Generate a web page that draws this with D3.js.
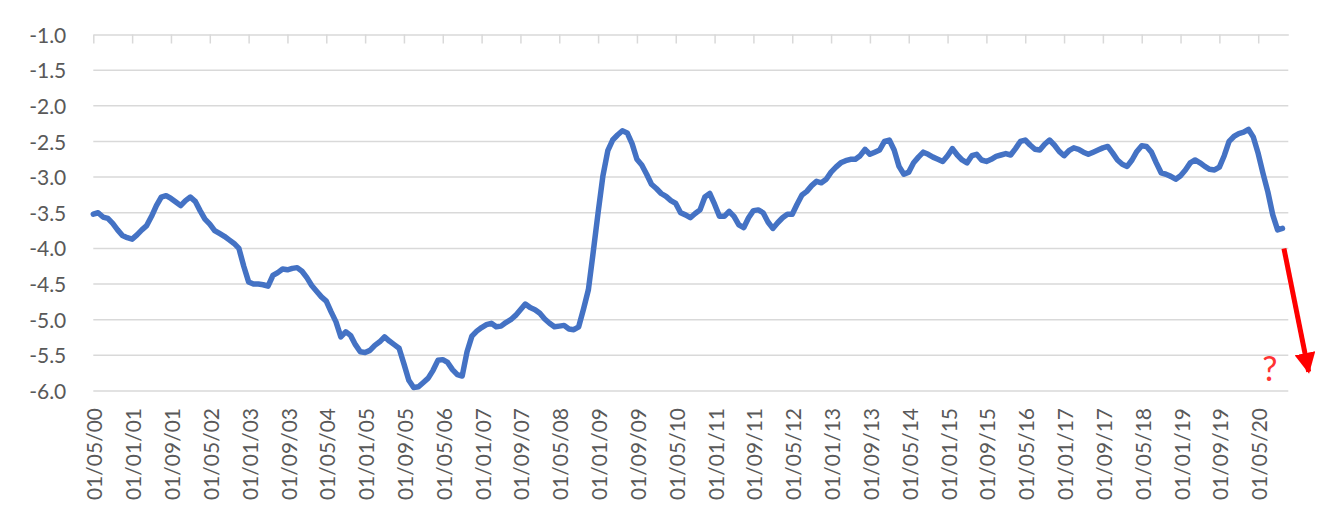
<!DOCTYPE html>
<html>
<head>
<meta charset="utf-8">
<script src="https://cdn.jsdelivr.net/npm/d3@7"></script>
<style>
  html, body { margin: 0; padding: 0; background: #fff; }
  svg { display: block; font-family: Lato, "Open Sans", sans-serif; }
</style>
</head>
<body>
<svg id="chart" width="1338" height="530"></svg>
<script>
// ---- data ----
const startYear = 2000, startMonth = 4; // May 2000 (0-based month)
const values = [
  -3.52,-3.50,-3.56,-3.58,-3.65,-3.74,-3.82,-3.85,-3.87,-3.81,
  -3.74,-3.68,-3.55,-3.40,-3.28,-3.26,-3.30,-3.35,-3.40,-3.33,
  -3.28,-3.34,-3.47,-3.59,-3.66,-3.75,-3.79,-3.83,-3.88,-3.93,
  -4.00,-4.25,-4.47,-4.50,-4.50,-4.51,-4.53,-4.38,-4.34,-4.29,
  -4.30,-4.28,-4.27,-4.32,-4.41,-4.52,-4.60,-4.68,-4.74,-4.89,
  -5.03,-5.24,-5.17,-5.22,-5.35,-5.45,-5.46,-5.43,-5.36,-5.31,
  -5.24,-5.30,-5.35,-5.40,-5.62,-5.85,-5.95,-5.94,-5.88,-5.82,
  -5.71,-5.57,-5.56,-5.60,-5.70,-5.77,-5.79,-5.45,-5.23,-5.16,
  -5.11,-5.07,-5.05,-5.10,-5.09,-5.04,-5.00,-4.94,-4.86,-4.78,
  -4.83,-4.86,-4.91,-4.99,-5.05,-5.10,-5.09,-5.08,-5.13,-5.14,
  -5.10,-4.85,-4.58,-4.05,-3.50,-2.98,-2.63,-2.48,-2.41,-2.35,
  -2.38,-2.53,-2.75,-2.83,-2.96,-3.10,-3.16,-3.23,-3.27,-3.33,
  -3.37,-3.50,-3.53,-3.57,-3.51,-3.46,-3.28,-3.23,-3.38,-3.55,
  -3.55,-3.48,-3.55,-3.67,-3.71,-3.57,-3.47,-3.46,-3.50,-3.63,
  -3.72,-3.64,-3.57,-3.52,-3.52,-3.38,-3.25,-3.20,-3.12,-3.06,
  -3.08,-3.03,-2.93,-2.86,-2.80,-2.77,-2.75,-2.75,-2.70,-2.61,
  -2.68,-2.65,-2.62,-2.50,-2.48,-2.62,-2.85,-2.96,-2.93,-2.80,
  -2.72,-2.65,-2.68,-2.72,-2.75,-2.78,-2.70,-2.60,-2.69,-2.76,
  -2.80,-2.70,-2.68,-2.76,-2.78,-2.75,-2.71,-2.69,-2.67,-2.69,
  -2.60,-2.50,-2.48,-2.55,-2.61,-2.62,-2.54,-2.48,-2.55,-2.64,
  -2.70,-2.63,-2.59,-2.61,-2.65,-2.68,-2.65,-2.62,-2.59,-2.57,
  -2.66,-2.76,-2.82,-2.85,-2.76,-2.64,-2.56,-2.57,-2.65,-2.80,
  -2.94,-2.96,-2.99,-3.03,-2.98,-2.90,-2.80,-2.76,-2.80,-2.85,
  -2.89,-2.90,-2.86,-2.70,-2.50,-2.43,-2.39,-2.37,-2.33,-2.44,
  -2.67,-2.95,-3.21,-3.53,-3.74,-3.72
];
const dates = values.map((v, i) => new Date(startYear, startMonth + i, 1));
const tickLabels = [
  "01/05/00","01/01/01","01/09/01","01/05/02","01/01/03","01/09/03","01/05/04",
  "01/01/05","01/09/05","01/05/06","01/01/07","01/09/07","01/05/08","01/01/09",
  "01/09/09","01/05/10","01/01/11","01/09/11","01/05/12","01/01/13","01/09/13",
  "01/05/14","01/01/15","01/09/15","01/05/16","01/01/17","01/09/17","01/05/18",
  "01/01/19","01/09/19","01/05/20"
];
const tickEvery = 8; // months between labels
const yTicks = [-1.0,-1.5,-2.0,-2.5,-3.0,-3.5,-4.0,-4.5,-5.0,-5.5,-6.0];
const yDomain = [-6, -1];
// annotation: arrow (month index, value) and question mark
const arrowFrom = [245.3, -4.0], arrowTo = [250.4, -5.73];
const qMark = { text: "?", at: [242.4, -5.86] };

// ---- layout ----
const svg = d3.select("#chart");
const mLeft = 93.3, mRight = 1288.3, mTop = 34.5, mBottom = 391;
const monthsSpan = 246.2;

const x = d3.scaleLinear().domain([0, monthsSpan]).range([mLeft, mRight]);
const y = d3.scaleLinear().domain(yDomain).range([mBottom, mTop]);
const monthIdx = d => (d.getFullYear() - startYear) * 12 + d.getMonth() - startMonth;

const gridColor = "#d9d9d9", textColor = "#595959";

// gridlines
svg.append("g")
  .selectAll("line").data(yTicks.filter(t => t !== -1.0)).join("line")
  .attr("x1", mLeft).attr("x2", mRight)
  .attr("y1", d => y(d)).attr("y2", d => y(d))
  .attr("stroke", gridColor).attr("stroke-width", 1.5);

// top category axis (crosses at -1.0) with tick marks
const tickIdx = tickLabels.map((t, i) => i * tickEvery);
const topAxis = d3.axisBottom(x).tickValues(tickIdx).tickSize(9).tickSizeOuter(0).tickFormat("");
const gTop = svg.append("g").attr("transform", `translate(0,${y(-1.0)})`).call(topAxis);
gTop.select(".domain").attr("stroke", gridColor).attr("stroke-width", 1.5);
gTop.selectAll(".tick line").attr("stroke", gridColor).attr("stroke-width", 1.5);

// y labels
const yAxis = d3.axisLeft(y).tickValues(yTicks).tickSize(0).tickPadding(0)
  .tickFormat(d => d.toFixed(1));
const gY = svg.append("g").attr("transform", `translate(${mLeft - 27},0)`).call(yAxis);
gY.select(".domain").remove();
gY.selectAll("text").attr("fill", textColor).attr("font-size", 21)
  .attr("font-family", "Lato, 'Open Sans', sans-serif").attr("dy", "0.36em");

// x labels (rotated)
svg.append("g").selectAll("text").data(tickLabels).join("text")
  .attr("transform", (d, i) => `translate(${x(tickIdx[i]) + 1.5},408) rotate(-90)`)
  .attr("text-anchor", "end").attr("dy", "0.36em")
  .attr("fill", textColor).attr("font-size", 21)
  .text(d => d);

// series line
const line = d3.line().x(d => x(monthIdx(d.date))).y(d => y(d.value));
svg.append("path")
  .datum(values.map((v, i) => ({ date: dates[i], value: v })))
  .attr("d", line)
  .attr("fill", "none").attr("stroke", "#4472C4").attr("stroke-width", 5.5)
  .attr("stroke-linejoin", "round").attr("stroke-linecap", "round");

// red arrow annotation
const defs = svg.append("defs");
defs.append("marker").attr("id", "arrowhead")
  .attr("viewBox", "0 0 10 10").attr("refX", 9).attr("refY", 5)
  .attr("markerWidth", 4.2).attr("markerHeight", 4.2).attr("orient", "auto")
  .attr("markerUnits", "strokeWidth")
  .append("path").attr("d", "M0,0 L10,5 L0,10 z").attr("fill", "#ff0000");
svg.append("line")
  .attr("x1", x(arrowFrom[0])).attr("y1", y(arrowFrom[1]))
  .attr("x2", x(arrowTo[0])).attr("y2", y(arrowTo[1]))
  .attr("stroke", "#ff0000").attr("stroke-width", 5)
  .attr("marker-end", "url(#arrowhead)");

svg.append("text")
  .attr("x", x(qMark.at[0])).attr("y", y(qMark.at[1]))
  .attr("text-anchor", "middle").attr("fill", "#ff3333")
  .attr("font-size", 34).attr("font-family", "Lato, sans-serif")
  .text(qMark.text);
</script>
</body>
</html>
